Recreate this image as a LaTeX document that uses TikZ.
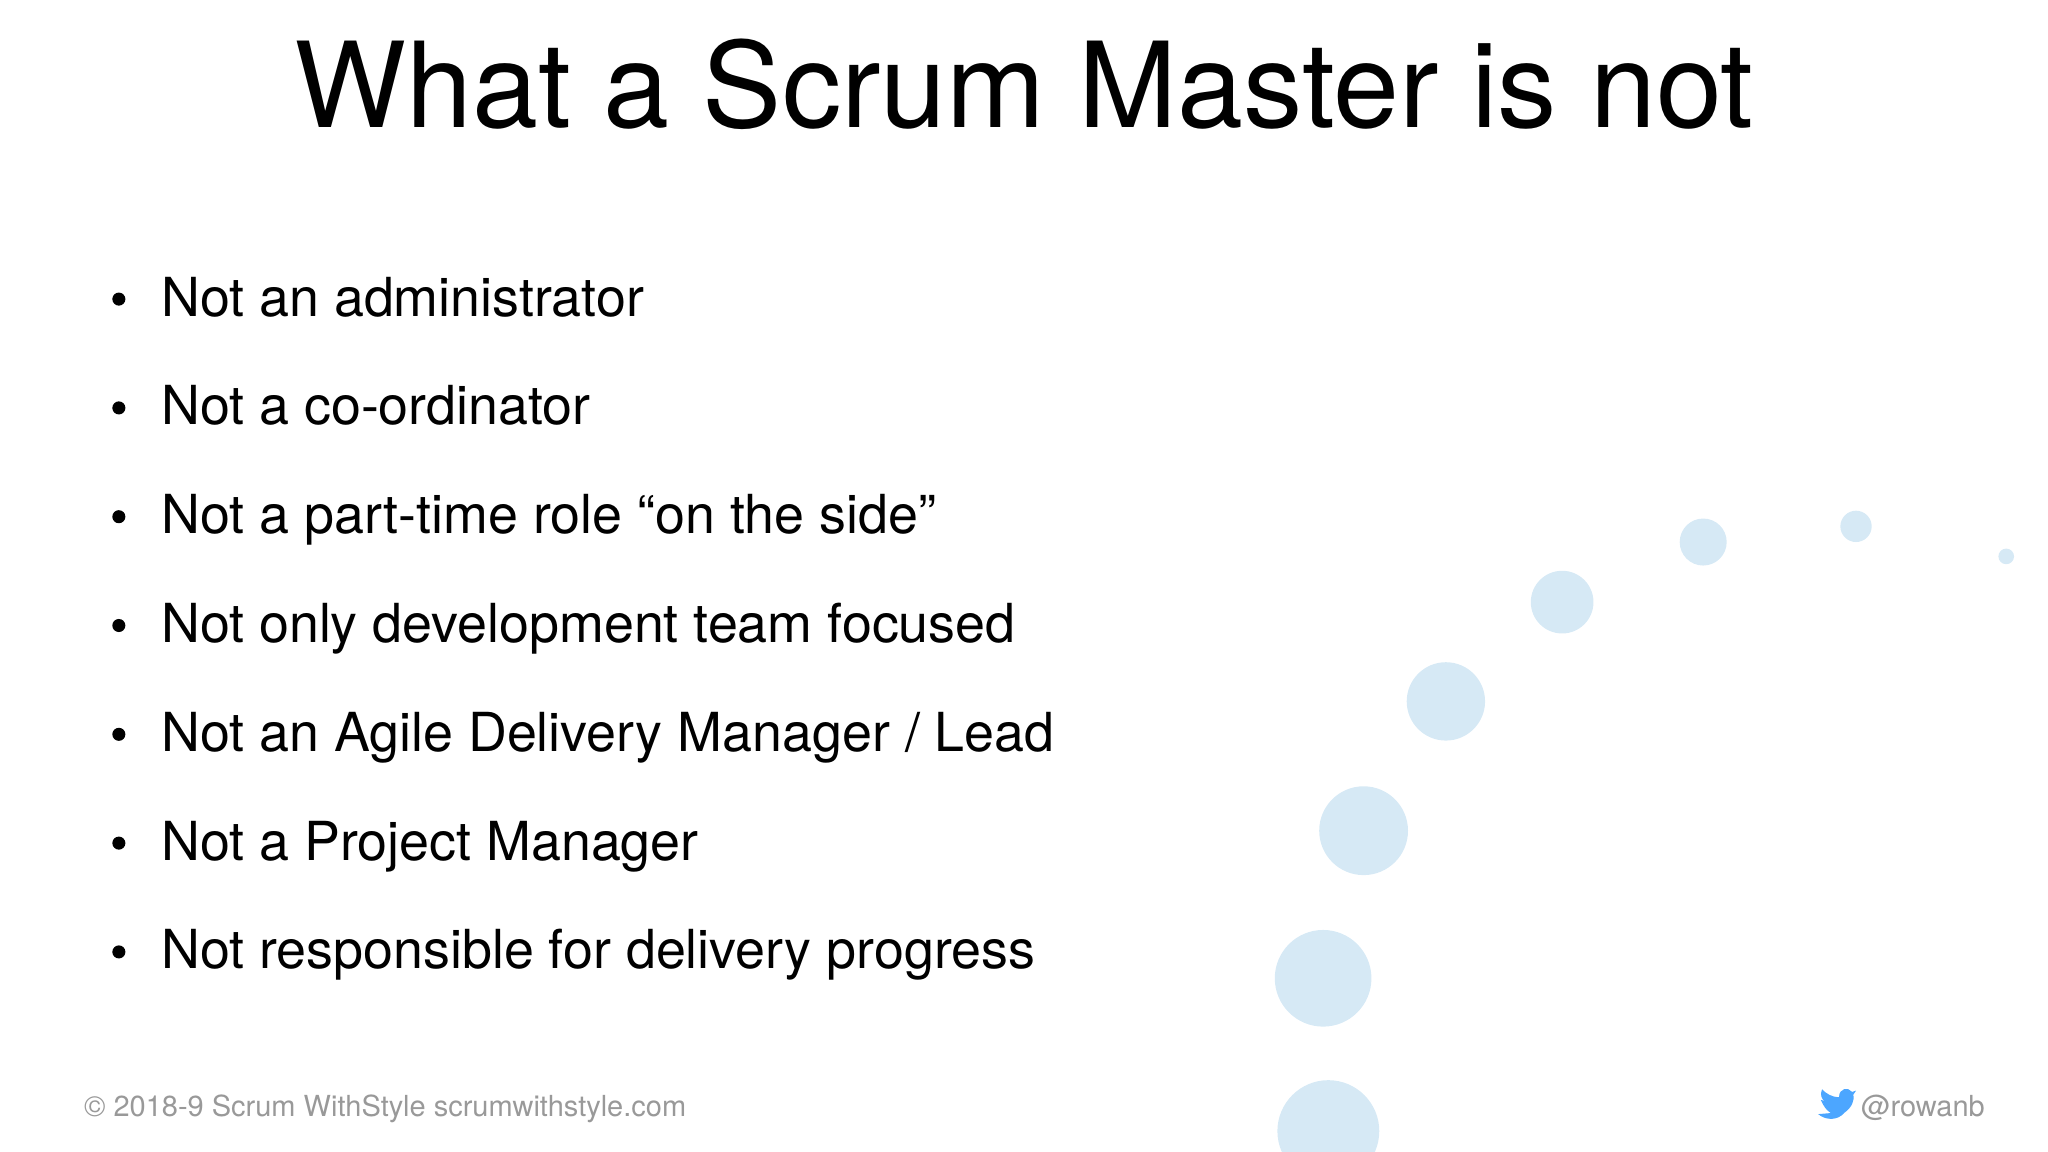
\documentclass[tikz,border=0pt]{standalone}
\usepackage{fontspec}
\setmainfont{TeX Gyre Heros}
\begin{document}
\begin{tikzpicture}[x=0.5pt,y=-0.5pt,
  bul/.style={anchor=base west,inner sep=0,font=\fontsize{20.6}{24}\selectfont},
  dot/.style={fill=cblue,draw=none},
  foot/.style={inner sep=0,font=\fontsize{11.1}{13}\selectfont,text=gray!80}]
\definecolor{cblue}{HTML}{D6E9F5}
\useasboundingbox (0,0) rectangle (1568,882);
\begin{scope}
\clip (0,0) rectangle (1568,882);
\fill[dot] (1017,866) circle (39);
\fill[dot] (1013,749) circle (37);
\fill[dot] (1044,636) circle (34);
\fill[dot] (1107,537) circle (30);
\fill[dot] (1196,461) circle (24);
\fill[dot] (1304,415) circle (18);
\fill[dot] (1421,403) circle (12);
\fill[dot] (1536,426) circle (6);
\end{scope}
\node[anchor=base,inner sep=0,font=\fontsize{45.4}{50}\selectfont] (title) at (784,98) {What a Scrum Master is not};
\foreach \t [count=\i] in {Not an administrator,Not a co-ordinator,Not a part-time role “on the side”,Not only development team focused,Not an Agile Delivery Manager / Lead,Not a Project Manager,Not responsible for delivery progress}{
  \node[bul] (b\i) at (123,{242+83.3*(\i-1)}) {\t};
  \fill (91,{229+83.3*(\i-1)}) circle (5);
}
\node[foot,anchor=base west] (copy) at (64,855) {© 2018-9 Scrum WithStyle scrumwithstyle.com};
\node[foot,anchor=base east] (tw) at (1520,855) {@rowanb};
\fill[blue!50!cyan!70!white] (1394,842) .. controls (1398,852) and (1405,856) .. (1412,852)
  .. controls (1418,848) and (1420,842) .. (1419,838) -- (1421,835) -- (1418,836)
  .. controls (1415,832) and (1408,833) .. (1408,840)
  .. controls (1402,840) and (1398,837) .. (1395,834)
  .. controls (1393,838) and (1395,842) .. (1397,843) -- cycle;
\fill[blue!50!cyan!70!white] (1392,853) .. controls (1398,858) and (1407,858) .. (1412,852) -- (1404,852) -- cycle;
\end{tikzpicture}
\end{document}
